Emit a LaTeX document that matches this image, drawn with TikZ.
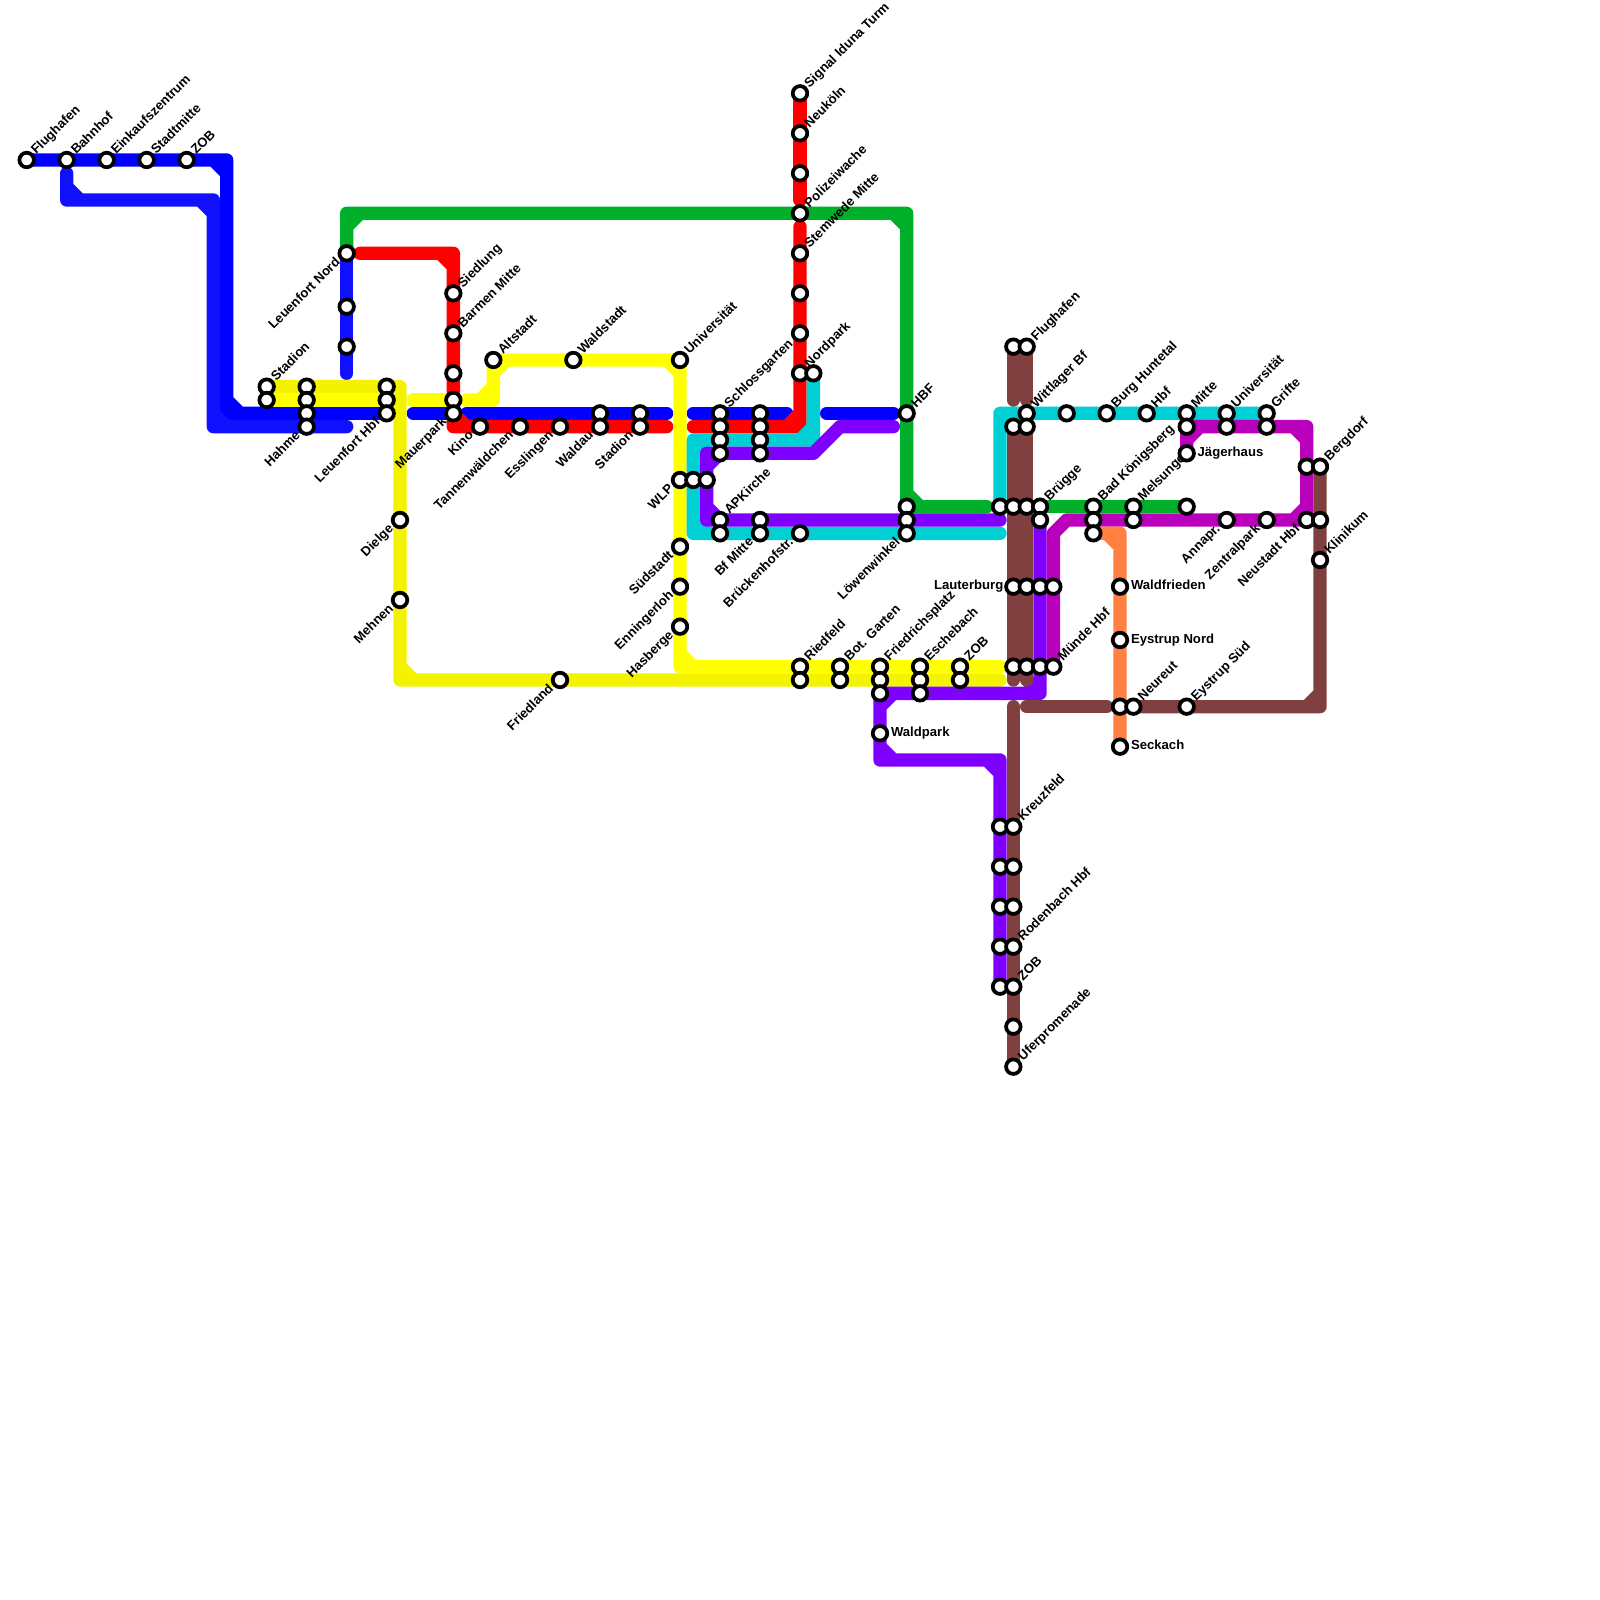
\documentclass[tikz,border=0pt]{standalone}
\usepackage{fontspec}
\setmainfont{Liberation Sans}
\usetikzlibrary{backgrounds}
\definecolor{blueA}{RGB}{0,0,255}
\definecolor{blueB}{RGB}{16,16,255}
\definecolor{yellowA}{RGB}{255,255,0}
\definecolor{yellowB}{RGB}{243,243,0}
\definecolor{redA}{RGB}{255,0,0}
\definecolor{greenA}{RGB}{0,176,42}
\definecolor{cyanA}{RGB}{0,208,212}
\definecolor{purpleA}{RGB}{128,0,255}
\definecolor{magentaA}{RGB}{187,0,187}
\definecolor{brownA}{RGB}{128,64,64}
\definecolor{orangeA}{RGB}{255,128,64}

\begin{document}
\begin{tikzpicture}[
    x=.2cm, y=-.2cm,
    stn/.style={circle, draw=black, fill=white, line width=1.6pt, minimum size=6.2pt, inner sep=0pt},
    lbl/.style={inner sep=0pt, font=\fontsize{5.6}{6.6}\selectfont\bfseries},
    ltr/.style={lbl, anchor=base west, xshift=4pt, yshift=2pt, rotate=45},
    lbr/.style={lbl, anchor=base east, xshift=-2.4pt, yshift=-3.9pt, rotate=45},
    lrt/.style={lbl, anchor=base west, xshift=4.5pt, yshift=-1.4pt},
    llf/.style={lbl, anchor=base east, xshift=-4.1pt, yshift=-1.4pt},
    ln/.style={line width=.2cm, line cap=round, line join=round}
]
\useasboundingbox (0,0) rectangle (120,120);
% stations, top left
\node[stn] (flug) at (2,12) {};
\node[stn] (bahn) at (5,12) {};
\node[stn] (eink) at (8,12) {};
\node[stn] (stmi) at (11,12) {};
\node[stn] (zoba) at (14,12) {};
\node[stn] (stad) at (20,29) {};
\node[stn] (x20y30) at (20,30) {};
\node[stn] (x23y29) at (23,29) {};
\node[stn] (x23y30) at (23,30) {};
\node[stn] (x23y31) at (23,31) {};
\node[stn] (hahm) at (23,32) {};
\node[stn] (x29y29) at (29,29) {};
\node[stn] (x29y30) at (29,30) {};
\node[stn] (lhbf) at (29,31) {};
\node[stn] (lnor) at (26,19) {};
\node[stn] (x26y23) at (26,23) {};
\node[stn] (x26y26) at (26,26) {};
\node[stn] (diel) at (30,39) {};
\node[stn] (mehn) at (30,45) {};
\node[stn] (frld) at (42,51) {};
% stations, middle
\node[stn] (sied) at (34,22) {};
\node[stn] (barm) at (34,25) {};
\node[stn] (x34y28) at (34,28) {};
\node[stn] (x34y30) at (34,30) {};
\node[stn] (maue) at (34,31) {};
\node[stn] (alts) at (37,27) {};
\node[stn] (wald) at (43,27) {};
\node[stn] (kino) at (36,32) {};
\node[stn] (tann) at (39,32) {};
\node[stn] (essl) at (42,32) {};
\node[stn] (x45y31) at (45,31) {};
\node[stn] (wdau) at (45,32) {};
\node[stn] (x48y31) at (48,31) {};
\node[stn] (stdn) at (48,32) {};
\node[stn] (univ) at (51,27) {};
\node[stn] (wlp) at (51,36) {};
\node[stn] (sued) at (51,41) {};
\node[stn] (enni) at (51,44) {};
\node[stn] (hasb) at (51,47) {};
\node[stn] (x52y36) at (52,36) {};
\node[stn] (x53y36) at (53,36) {};
\node[stn] (schl) at (54,31) {};
\node[stn] (x54y32) at (54,32) {};
\node[stn] (x54y33) at (54,33) {};
\node[stn] (x54y34) at (54,34) {};
\node[stn] (apki) at (54,39) {};
\node[stn] (x54y40) at (54,40) {};
\node[stn] (x57y31) at (57,31) {};
\node[stn] (x57y32) at (57,32) {};
\node[stn] (x57y33) at (57,33) {};
\node[stn] (x57y34) at (57,34) {};
\node[stn] (x57y39) at (57,39) {};
\node[stn] (bfmi) at (57,40) {};
\node[stn] (sign) at (60,7) {};
\node[stn] (neuk) at (60,10) {};
\node[stn] (x60y13) at (60,13) {};
\node[stn] (poli) at (60,16) {};
\node[stn] (stem) at (60,19) {};
\node[stn] (x60y22) at (60,22) {};
\node[stn] (x60y25) at (60,25) {};
\node[stn] (nord) at (60,28) {};
\node[stn] (x61y28) at (61,28) {};
\node[stn] (bruk) at (60,40) {};
\node[stn] (ried) at (60,50) {};
\node[stn] (x60y51) at (60,51) {};
\node[stn] (bota) at (63,50) {};
\node[stn] (x63y51) at (63,51) {};
\node[stn] (frie) at (66,50) {};
\node[stn] (x66y51) at (66,51) {};
\node[stn] (x66y52) at (66,52) {};
\node[stn] (wapa) at (66,55) {};
\node[stn] (hbf) at (68,31) {};
\node[stn] (x68y38) at (68,38) {};
\node[stn] (x68y39) at (68,39) {};
\node[stn] (loew) at (68,40) {};
\node[stn] (esch) at (69,50) {};
\node[stn] (x69y51) at (69,51) {};
\node[stn] (x69y52) at (69,52) {};
\node[stn] (zobb) at (72,50) {};
\node[stn] (x72y51) at (72,51) {};
% stations, right
\node[stn] (x75y38) at (75,38) {};
\node[stn] (x75y62) at (75,62) {};
\node[stn] (x75y65) at (75,65) {};
\node[stn] (x75y68) at (75,68) {};
\node[stn] (x75y71) at (75,71) {};
\node[stn] (x75y74) at (75,74) {};
\node[stn] (x76y26) at (76,26) {};
\node[stn] (x76y32) at (76,32) {};
\node[stn] (x76y38) at (76,38) {};
\node[stn] (laut) at (76,44) {};
\node[stn] (x76y50) at (76,50) {};
\node[stn] (kreu) at (76,62) {};
\node[stn] (x76y65) at (76,65) {};
\node[stn] (x76y68) at (76,68) {};
\node[stn] (rode) at (76,71) {};
\node[stn] (zobc) at (76,74) {};
\node[stn] (x76y77) at (76,77) {};
\node[stn] (ufer) at (76,80) {};
\node[stn] (flgh) at (77,26) {};
\node[stn] (witt) at (77,31) {};
\node[stn] (x77y32) at (77,32) {};
\node[stn] (x77y38) at (77,38) {};
\node[stn] (x77y44) at (77,44) {};
\node[stn] (x77y50) at (77,50) {};
\node[stn] (brue) at (78,38) {};
\node[stn] (x78y39) at (78,39) {};
\node[stn] (x78y44) at (78,44) {};
\node[stn] (x78y50) at (78,50) {};
\node[stn] (x79y44) at (79,44) {};
\node[stn] (muen) at (79,50) {};
\node[stn] (x80y31) at (80,31) {};
\node[stn] (burg) at (83,31) {};
\node[stn] (hbfb) at (86,31) {};
\node[stn] (mitt) at (89,31) {};
\node[stn] (x89y32) at (89,32) {};
\node[stn] (jaeg) at (89,34) {};
\node[stn] (x89y38) at (89,38) {};
\node[stn] (unib) at (92,31) {};
\node[stn] (x92y32) at (92,32) {};
\node[stn] (grif) at (95,31) {};
\node[stn] (x95y32) at (95,32) {};
\node[stn] (badk) at (82,38) {};
\node[stn] (x82y39) at (82,39) {};
\node[stn] (x82y40) at (82,40) {};
\node[stn] (mels) at (85,38) {};
\node[stn] (x85y39) at (85,39) {};
\node[stn] (anna) at (92,39) {};
\node[stn] (zent) at (95,39) {};
\node[stn] (nhbf) at (98,39) {};
\node[stn] (x98y35) at (98,35) {};
\node[stn] (berg) at (99,35) {};
\node[stn] (x99y39) at (99,39) {};
\node[stn] (klin) at (99,42) {};
\node[stn] (wafr) at (84,44) {};
\node[stn] (eyno) at (84,48) {};
\node[stn] (x84y53) at (84,53) {};
\node[stn] (neur) at (85,53) {};
\node[stn] (eysu) at (89,53) {};
\node[stn] (seck) at (84,56) {};
% bends and free ends
\coordinate (ba1) at (17,12);
\coordinate (ba2) at (17,31);
\coordinate (ba3) at (31,31);
\coordinate (ba4) at (35,31);
\coordinate (ba5) at (50,31);
\coordinate (ba6) at (52,31);
\coordinate (ba7) at (59,31);
\coordinate (ba8) at (62,31);
\coordinate (ba9) at (67,31);
\coordinate (bb1) at (5,13);
\coordinate (bb2) at (5,15);
\coordinate (bb3) at (16,15);
\coordinate (bb4) at (16,32);
\coordinate (bb5) at (26,32);
\coordinate (bb6) at (26,28);
\coordinate (rd1) at (27,19);
\coordinate (rd2) at (34,19);
\coordinate (rd3) at (34,32);
\coordinate (rd4) at (50,32);
\coordinate (rd5) at (52,32);
\coordinate (rd6) at (60,32);
\coordinate (rd7) at (60,17);
\coordinate (rd8) at (60,15);
\coordinate (ya1) at (31,30);
\coordinate (ya2) at (35,30);
\coordinate (ya3) at (37,30);
\coordinate (ya4) at (51,50);
\coordinate (ya5) at (75,50);
\coordinate (yb1) at (30,29);
\coordinate (yb2) at (30,51);
\coordinate (yb3) at (75,51);
\coordinate (gr1) at (26,16);
\coordinate (gr2) at (68,16);
\coordinate (gr3) at (74,38);
\coordinate (cy1) at (61,33);
\coordinate (cy2) at (52,33);
\coordinate (cy3) at (52,40);
\coordinate (cy4) at (75,40);
\coordinate (cy5) at (75,31);
\coordinate (pu1) at (67,32);
\coordinate (pu2) at (63,32);
\coordinate (pu3) at (61,34);
\coordinate (pu4) at (53,34);
\coordinate (pu5) at (53,39);
\coordinate (pu6) at (75,39);
\coordinate (pu7) at (78,52);
\coordinate (pu8) at (66,57);
\coordinate (pu9) at (75,57);
\coordinate (ma1) at (89,32);
\coordinate (ma2) at (98,32);
\coordinate (ma3) at (80,39);
\coordinate (ma4) at (79,40);
\coordinate (br1) at (76,30);
\coordinate (br2) at (77,30);
\coordinate (br3) at (76,51);
\coordinate (br4) at (77,51);
\coordinate (br5) at (76,53);
\coordinate (br6) at (77,53);
\coordinate (br7) at (83,53);
\coordinate (br8) at (99,53);
\coordinate (or1) at (84,40);

\begin{scope}[on background layer]
% lines
\draw[ln, blueA] (flug.center) -- (ba1) -- (ba2) -- (lhbf.center) (ba1) +(-1,0) -- +(0,1) (ba2) +(0,-1) -- +(1,0);
\draw[ln, blueA] (ba3) -- (maue.center);
\draw[ln, blueA] (ba4) -- (ba5);
\draw[ln, blueA] (ba6) -- (ba7);
\draw[ln, blueA] (ba8) -- (ba9);
\draw[ln, blueB] (bb1) -- (bb2) -- (bb3) -- (bb4) -- (bb5) (bb2) +(0,-1) -- +(1,0) (bb3) +(-1,0) -- +(0,1) (bb4) +(0,-1) -- +(1,0);
\draw[ln, blueB] (lnor.center) -- (bb6);
\draw[ln, redA] (rd1) -- (rd2) -- (rd3) -- (rd4) (rd2) +(-1,0) -- +(0,1) (rd3) +(0,-1) -- +(1,0);
\draw[ln, redA] (rd5) -- (rd6) -- (rd7) (rd6) +(-1,0) -- +(0,-1);
\draw[ln, redA] (sign.center) -- (rd8);
\draw[ln, yellowB] (stad.center) -- (yb1) -- (yb2) -- (yb3) (yb1) +(-1,0) -- +(0,1) (yb2) +(0,-1) -- +(1,0);
\draw[ln, yellowA] (x20y30.center) -- (x29y30.center);
\draw[ln, yellowA] (ya1) -- (x34y30.center);
\draw[ln, yellowA] (ya2) -- (ya3) -- (alts.center) -- (univ.center) -- (ya4) -- (ya5) (ya3) +(-1,0) -- +(0,-1) (alts) +(0,1) -- +(1,0) (univ) +(-1,0) -- +(0,1) (ya4) +(0,-1) -- +(1,0);
\draw[ln, greenA] (lnor.center) -- (gr1) -- (gr2) -- (x68y38.center) -- (gr3) (gr1) +(0,1) -- +(1,0) (gr2) +(-1,0) -- +(0,1) (x68y38) +(0,-1) -- +(1,0);
\draw[ln, greenA] (brue.center) -- (x89y38.center);
\draw[ln, cyanA] (x61y28.center) -- (cy1) -- (cy2) -- (cy3) -- (cy4) (cy1) +(-1,0) -- +(0,-1) (cy2) +(1,0) -- +(0,1) (cy3) +(0,-1) -- +(1,0);
\draw[ln, cyanA] (x75y38.center) -- (cy5) -- (grif.center) (cy5) +(1,0) -- +(0,1);
\draw[ln, purpleA] (pu1) -- (pu2) -- (pu3) -- (pu4) -- (pu5) -- (pu6) (pu4) +(1,0) -- +(0,1) (pu5) +(0,-1) -- +(1,0);
\draw[ln, purpleA] (x78y39.center) -- (pu7) -- (x66y52.center) -- (pu8) -- (pu9) -- (x75y74.center) (pu7) +(0,-1) -- +(-1,0) (x66y52) +(1,0) -- +(0,1) (pu8) +(0,-1) -- +(1,0) (pu9) +(-1,0) -- +(0,1);
\draw[ln, magentaA] (jaeg.center) -- (ma1) -- (ma2) -- (nhbf.center) -- (ma3) -- (ma4) -- (muen.center) (ma1) +(1,0) -- +(0,1) (ma2) +(-1,0) -- +(0,1) (nhbf) +(-1,0) -- +(0,-1);
\draw[ln, brownA] (x76y26.center) -- (br1);
\draw[ln, brownA] (flgh.center) -- (br2);
\draw[ln, brownA] (x76y32.center) -- (br3);
\draw[ln, brownA] (x77y32.center) -- (br4);
\draw[ln, brownA] (br5) -- (ufer.center);
\draw[ln, brownA] (br6) -- (br7);
\draw[ln, brownA] (neur.center) -- (br8) -- (berg.center) (br8) +(-1,0) -- +(0,-1);
\draw[ln, orangeA] (x82y40.center) -- (or1) -- (seck.center) (or1) +(-1,0) -- +(0,1);
% labels
\node[ltr] (lflug) at (flug) {Flughafen};
\node[ltr] (lbahn) at (bahn) {Bahnhof};
\node[ltr] (leink) at (eink) {Einkaufszentrum};
\node[ltr] (lstmi) at (stmi) {Stadtmitte};
\node[ltr] (lzoba) at (zoba) {ZOB};
\node[ltr] (lstad) at (stad) {Stadion};
\node[ltr] (lsied) at (sied) {Siedlung};
\node[ltr] (lbarm) at (barm) {Barmen Mitte};
\node[ltr] (lalts) at (alts) {Altstadt};
\node[ltr] (lwald) at (wald) {Waldstadt};
\node[ltr] (luniv) at (univ) {Universität};
\node[ltr] (lsign) at (sign) {Signal Iduna Turm};
\node[ltr] (lneuk) at (neuk) {Neuköln};
\node[ltr] (lpoli) at (poli) {Polizeiwache};
\node[ltr] (lstem) at (stem) {Stemwede Mitte};
\node[ltr] (lschl) at (schl) {Schlossgarten};
\node[ltr] (lnord) at (nord) {Nordpark};
\node[ltr] (lapki) at (apki) {APKirche};
\node[ltr] (lhbfa) at (hbf) {HBF};
\node[ltr] (lried) at (ried) {Riedfeld};
\node[ltr] (lbota) at (bota) {Bot. Garten};
\node[ltr] (lfrie) at (frie) {Friedrichsplatz};
\node[ltr] (lesch) at (esch) {Eschebach};
\node[ltr] (lzobb) at (zobb) {ZOB};
\node[ltr] (lflgh) at (flgh) {Flughafen};
\node[ltr] (lwitt) at (witt) {Wittlager Bf};
\node[ltr] (lbrue) at (brue) {Brügge};
\node[ltr] (lbadk) at (badk) {Bad Königsberg};
\node[ltr] (lmels) at (mels) {Melsungen};
\node[ltr] (lburg) at (burg) {Burg Huntetal};
\node[ltr] (lhbfb) at (hbfb) {Hbf};
\node[ltr] (lmitt) at (mitt) {Mitte};
\node[ltr] (lunib) at (unib) {Universität};
\node[ltr] (lgrif) at (grif) {Grifte};
\node[ltr] (lberg) at (berg) {Bergdorf};
\node[ltr] (lklin) at (klin) {Klinikum};
\node[ltr] (lmuen) at (muen) {Münde Hbf};
\node[ltr] (lneur) at (neur) {Neureut};
\node[ltr] (leysu) at (eysu) {Eystrup Süd};
\node[ltr] (lkreu) at (kreu) {Kreuzfeld};
\node[ltr] (lrode) at (rode) {Rodenbach Hbf};
\node[ltr] (lzobc) at (zobc) {ZOB};
\node[ltr] (lufer) at (ufer) {Uferpromenade};
\node[lbr] (llnor) at (lnor) {Leuenfort Nord};
\node[lbr] (lhahm) at (hahm) {Hahme};
\node[lbr] (llhbf) at (lhbf) {Leuenfort Hbf};
\node[lbr] (lmaue) at (maue) {Mauerpark};
\node[lbr] (lkino) at (kino) {Kino};
\node[lbr] (ltann) at (tann) {Tannenwäldchen};
\node[lbr] (lessl) at (essl) {Esslingen};
\node[lbr] (lwdau) at (wdau) {Waldau};
\node[lbr] (lstdn) at (stdn) {Stadion};
\node[lbr] (lwlp) at (wlp) {WLP};
\node[lbr] (ldiel) at (diel) {Dielge};
\node[lbr] (lmehn) at (mehn) {Mehnen};
\node[lbr] (lsued) at (sued) {Südstadt};
\node[lbr] (lenni) at (enni) {Enningerloh};
\node[lbr] (lhasb) at (hasb) {Hasberge};
\node[lbr] (lfrld) at (frld) {Friedland};
\node[lbr] (lbfmi) at (bfmi) {Bf Mitte};
\node[lbr] (lbruk) at (bruk) {Brückenhofstr.};
\node[lbr] (lloew) at (loew) {Löwenwinkel};
\node[lbr] (lanna) at (anna) {Annapr.};
\node[lbr] (lzent) at (zent) {Zentralpark};
\node[lbr] (lnhbf) at (nhbf) {Neustadt Hbf};
\node[lrt] (ljaeg) at (jaeg) {Jägerhaus};
\node[lrt] (lwapa) at (wapa) {Waldpark};
\node[lrt] (lwafr) at (wafr) {Waldfrieden};
\node[lrt] (leyno) at (eyno) {Eystrup Nord};
\node[lrt] (lseck) at (seck) {Seckach};
\node[llf] (llaut) at (laut) {Lauterburg};
\end{scope}
\end{tikzpicture}
\end{document}
